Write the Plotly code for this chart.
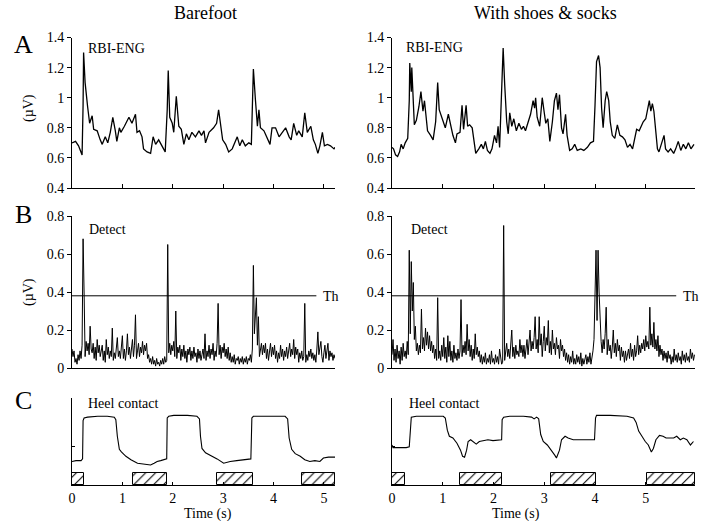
import plotly.graph_objects as go

# ---------------- data ----------------
# Panel A: rectified-bin-integrated ENG (µV) versus time (s)
A_BAREFOOT = [
    (0.00, 0.70), (0.07, 0.71), (0.13, 0.68), (0.17, 0.64), (0.20, 0.62), (0.22, 0.95),
    (0.23, 1.30), (0.26, 1.10), (0.29, 0.97), (0.31, 0.94), (0.35, 0.83), (0.40, 0.88),
    (0.43, 0.79), (0.50, 0.78), (0.56, 0.72), (0.60, 0.69), (0.66, 0.74), (0.71, 0.70),
    (0.76, 0.77), (0.81, 0.87), (0.86, 0.78), (0.89, 0.71), (0.94, 0.80), (0.97, 0.77),
    (1.04, 0.81), (1.13, 0.87), (1.19, 0.83), (1.26, 0.89), (1.29, 0.77), (1.34, 0.78),
    (1.39, 0.74), (1.42, 0.66), (1.49, 0.64), (1.56, 0.63), (1.61, 0.74), (1.66, 0.69),
    (1.72, 0.72), (1.79, 0.68), (1.85, 0.64), (1.89, 0.92), (1.91, 1.18), (1.94, 0.87),
    (1.99, 0.83), (2.02, 0.77), (2.07, 1.01), (2.12, 0.81), (2.17, 0.79), (2.22, 0.69),
    (2.27, 0.76), (2.32, 0.72), (2.38, 0.77), (2.45, 0.74), (2.52, 0.78), (2.57, 0.75),
    (2.62, 0.78), (2.65, 0.70), (2.72, 0.77), (2.81, 0.80), (2.87, 0.83), (2.91, 0.92),
    (2.95, 0.81), (2.99, 0.72), (3.05, 0.69), (3.11, 0.64), (3.18, 0.66), (3.23, 0.70),
    (3.28, 0.74), (3.33, 0.68), (3.38, 0.72), (3.44, 0.68), (3.51, 0.70), (3.56, 0.69),
    (3.60, 1.19), (3.64, 0.99), (3.68, 0.81), (3.71, 0.92), (3.74, 0.80), (3.81, 0.78),
    (3.87, 0.74), (3.93, 0.69), (3.97, 0.80), (4.04, 0.80), (4.11, 0.74), (4.17, 0.77),
    (4.24, 0.80), (4.31, 0.74), (4.35, 0.72), (4.40, 0.83), (4.46, 0.75), (4.50, 0.78),
    (4.57, 0.74), (4.62, 0.90), (4.67, 0.77), (4.74, 0.81), (4.79, 0.72), (4.83, 0.69),
    (4.88, 0.63), (4.92, 0.68), (4.97, 0.77), (5.01, 0.68), (5.07, 0.69), (5.13, 0.68),
    (5.20, 0.66), (5.22, 0.67),
]

A_SHOES = [
    (0.00, 0.67), (0.03, 0.66), (0.07, 0.62), (0.11, 0.61), (0.15, 0.64), (0.18, 0.69),
    (0.22, 0.66), (0.26, 0.70), (0.31, 0.73), (0.34, 0.98), (0.35, 1.23), (0.38, 1.04),
    (0.39, 1.20), (0.41, 1.07), (0.44, 0.82), (0.48, 0.85), (0.53, 0.94), (0.57, 1.04),
    (0.61, 0.91), (0.64, 0.98), (0.67, 0.86), (0.70, 0.78), (0.76, 0.75), (0.81, 0.72),
    (0.86, 0.84), (0.90, 1.10), (0.93, 0.92), (0.97, 0.88), (1.02, 0.84), (1.05, 0.80),
    (1.11, 0.89), (1.15, 0.83), (1.20, 0.75), (1.25, 0.70), (1.28, 0.76), (1.34, 0.77),
    (1.38, 0.95), (1.41, 0.79), (1.46, 0.95), (1.49, 0.81), (1.53, 0.82), (1.58, 0.80),
    (1.61, 0.71), (1.65, 0.63), (1.71, 0.66), (1.76, 0.69), (1.80, 0.66), (1.84, 0.71),
    (1.88, 0.65), (1.93, 0.63), (1.97, 0.66), (2.02, 0.75), (2.06, 0.70), (2.09, 0.81),
    (2.12, 0.67), (2.15, 0.98), (2.19, 1.33), (2.22, 1.09), (2.26, 0.84), (2.29, 0.76),
    (2.32, 0.90), (2.36, 0.81), (2.40, 0.86), (2.45, 0.78), (2.50, 0.83), (2.55, 0.79),
    (2.59, 0.81), (2.63, 0.78), (2.68, 0.83), (2.73, 0.89), (2.78, 0.98), (2.81, 0.93),
    (2.83, 1.00), (2.86, 0.87), (2.91, 0.81), (2.96, 1.00), (3.00, 0.90), (3.03, 0.83),
    (3.07, 0.86), (3.11, 0.71), (3.16, 0.84), (3.20, 0.98), (3.24, 1.03), (3.27, 0.92),
    (3.30, 1.02), (3.34, 0.80), (3.37, 0.76), (3.42, 0.89), (3.45, 0.75), (3.50, 0.65),
    (3.55, 0.66), (3.60, 0.69), (3.65, 0.65), (3.72, 0.66), (3.78, 0.65), (3.85, 0.67),
    (3.91, 0.70), (3.97, 0.71), (4.00, 0.95), (4.03, 1.24), (4.07, 1.28), (4.10, 1.20),
    (4.13, 0.93), (4.16, 0.80), (4.20, 0.98), (4.23, 1.04), (4.27, 0.98), (4.30, 0.84),
    (4.34, 0.75), (4.39, 0.73), (4.44, 0.82), (4.49, 0.75), (4.54, 0.74), (4.59, 0.72),
    (4.64, 0.67), (4.69, 0.69), (4.74, 0.66), (4.78, 0.72), (4.82, 0.79), (4.87, 0.78),
    (4.91, 0.81), (4.95, 0.84), (5.00, 0.86), (5.03, 0.91), (5.07, 0.98), (5.10, 0.91),
    (5.13, 0.96), (5.16, 0.91), (5.20, 0.78), (5.23, 0.66), (5.26, 0.64), (5.31, 0.69),
    (5.36, 0.75), (5.39, 0.66), (5.44, 0.64), (5.49, 0.66), (5.55, 0.63), (5.59, 0.66),
    (5.64, 0.71), (5.69, 0.65), (5.74, 0.69), (5.79, 0.66), (5.84, 0.70), (5.89, 0.66),
    (5.95, 0.69),
]

# Panel B: detection signal (µV), sampled every B_DT seconds; one row = 0.2 s
B_DT = 0.02
B_BAREFOOT = [
    0.10, 0.06, 0.09, 0.03, 0.05, 0.02, 0.07, 0.04, 0.09, 0.05,
    0.12, 0.68, 0.40, 0.06, 0.14, 0.09, 0.13, 0.07, 0.22, 0.10,
    0.08, 0.13, 0.05, 0.11, 0.04, 0.15, 0.08, 0.12, 0.06, 0.10,
    0.12, 0.04, 0.09, 0.03, 0.15, 0.07, 0.11, 0.05, 0.09, 0.06,
    0.21, 0.04, 0.08, 0.05, 0.10, 0.16, 0.06, 0.09, 0.05, 0.12,
    0.17, 0.05, 0.10, 0.04, 0.09, 0.18, 0.07, 0.11, 0.05, 0.10,
    0.15, 0.06, 0.12, 0.28, 0.05, 0.09, 0.13, 0.06, 0.11, 0.08,
    0.14, 0.07, 0.12, 0.09, 0.13, 0.05, 0.07, 0.03, 0.05, 0.02,
    0.06, 0.02, 0.04, 0.01, 0.05, 0.02, 0.03, 0.01, 0.04, 0.02,
    0.05, 0.02, 0.06, 0.03, 0.04, 0.65, 0.08, 0.13, 0.07, 0.12,
    0.09, 0.14, 0.06, 0.30, 0.05, 0.11, 0.08, 0.12, 0.04, 0.10,
    0.06, 0.12, 0.05, 0.09, 0.03, 0.10, 0.07, 0.11, 0.04, 0.09,
    0.05, 0.11, 0.06, 0.08, 0.03, 0.10, 0.05, 0.09, 0.04, 0.07,
    0.10, 0.05, 0.18, 0.04, 0.09, 0.06, 0.12, 0.05, 0.10, 0.07,
    0.13, 0.04, 0.09, 0.06, 0.13, 0.34, 0.07, 0.12, 0.05, 0.11,
    0.08, 0.13, 0.06, 0.10, 0.05, 0.11, 0.04, 0.08, 0.03, 0.06,
    0.03, 0.07, 0.02, 0.05, 0.04, 0.06, 0.02, 0.05, 0.03, 0.06,
    0.02, 0.05, 0.03, 0.06, 0.02, 0.05, 0.04, 0.07, 0.03, 0.10,
    0.54, 0.18, 0.30, 0.37, 0.12, 0.27, 0.06, 0.10, 0.13, 0.07,
    0.12, 0.08, 0.13, 0.05, 0.10, 0.04, 0.09, 0.13, 0.06, 0.11,
    0.07, 0.12, 0.05, 0.09, 0.03, 0.08, 0.05, 0.12, 0.06, 0.10,
    0.04, 0.09, 0.06, 0.11, 0.05, 0.08, 0.13, 0.06, 0.10, 0.07,
    0.15, 0.05, 0.11, 0.07, 0.10, 0.03, 0.08, 0.05, 0.09, 0.04,
    0.06, 0.34, 0.03, 0.07, 0.04, 0.09, 0.06, 0.10, 0.05, 0.08,
    0.04, 0.07, 0.03, 0.10, 0.19, 0.07, 0.12, 0.14, 0.06, 0.03,
    0.08, 0.12, 0.05, 0.09, 0.13, 0.04, 0.09, 0.06, 0.08, 0.04,
    0.07, 0.05,
]

B_SHOES = [
    0.07, 0.15, 0.04, 0.10, 0.03, 0.12, 0.05, 0.09, 0.02, 0.11,
    0.04, 0.13, 0.06, 0.09, 0.05, 0.14, 0.07, 0.62, 0.18, 0.56,
    0.30, 0.45, 0.15, 0.22, 0.09, 0.13, 0.07, 0.12, 0.08, 0.31,
    0.10, 0.16, 0.09, 0.21, 0.12, 0.19, 0.10, 0.17, 0.09, 0.14,
    0.08, 0.12, 0.05, 0.10, 0.04, 0.37, 0.05, 0.09, 0.04, 0.12,
    0.06, 0.16, 0.05, 0.11, 0.03, 0.17, 0.06, 0.14, 0.04, 0.09,
    0.03, 0.12, 0.05, 0.08, 0.04, 0.10, 0.05, 0.09, 0.36, 0.06,
    0.12, 0.08, 0.14, 0.07, 0.23, 0.09, 0.15, 0.06, 0.12, 0.04,
    0.10, 0.05, 0.18, 0.07, 0.11, 0.06, 0.09, 0.03, 0.07, 0.02,
    0.06, 0.03, 0.08, 0.02, 0.05, 0.03, 0.07, 0.02, 0.09, 0.03,
    0.05, 0.02, 0.07, 0.03, 0.06, 0.02, 0.10, 0.04, 0.02, 0.03,
    0.75, 0.04, 0.09, 0.13, 0.06, 0.10, 0.05, 0.12, 0.20, 0.06,
    0.11, 0.05, 0.12, 0.07, 0.09, 0.06, 0.15, 0.08, 0.12, 0.06,
    0.12, 0.05, 0.10, 0.15, 0.07, 0.13, 0.20, 0.09, 0.14, 0.10,
    0.16, 0.27, 0.10, 0.15, 0.08, 0.27, 0.12, 0.18, 0.06, 0.14,
    0.22, 0.09, 0.16, 0.12, 0.25, 0.08, 0.14, 0.07, 0.20, 0.10,
    0.13, 0.07, 0.16, 0.10, 0.12, 0.05, 0.15, 0.09, 0.12, 0.06,
    0.10, 0.04, 0.08, 0.03, 0.07, 0.02, 0.06, 0.03, 0.09, 0.02,
    0.05, 0.02, 0.07, 0.03, 0.06, 0.02, 0.08, 0.01, 0.05, 0.02,
    0.04, 0.07, 0.02, 0.06, 0.03, 0.08, 0.02, 0.05, 0.09, 0.15,
    0.35, 0.62, 0.25, 0.62, 0.40, 0.20, 0.14, 0.08, 0.15, 0.10,
    0.18, 0.32, 0.07, 0.15, 0.09, 0.12, 0.05, 0.11, 0.20, 0.08,
    0.13, 0.06, 0.15, 0.09, 0.12, 0.04, 0.11, 0.06, 0.09, 0.03,
    0.09, 0.04, 0.07, 0.10, 0.05, 0.13, 0.06, 0.10, 0.04, 0.12,
    0.06, 0.09, 0.17, 0.07, 0.12, 0.08, 0.13, 0.10, 0.15, 0.09,
    0.17, 0.11, 0.14, 0.10, 0.32, 0.12, 0.18, 0.11, 0.24, 0.10,
    0.15, 0.09, 0.17, 0.06, 0.12, 0.07, 0.10, 0.04, 0.09, 0.05,
    0.08, 0.03, 0.09, 0.05, 0.07, 0.02, 0.06, 0.03, 0.10, 0.04,
    0.07, 0.03, 0.08, 0.04, 0.06, 0.02, 0.09, 0.04, 0.07, 0.03,
    0.08, 0.04, 0.06, 0.03, 0.10, 0.05, 0.08, 0.04, 0.07,
]

THRESHOLD = 0.38
TH_END = {"barefoot": 4.85, "shoes": 5.60}

# Panel C: heel-contact sensor (arbitrary units)
C_BAREFOOT = [
    (0.00, 0.27), (0.08, 0.28), (0.18, 0.28), (0.21, 0.30), (0.22, 0.74), (0.24, 0.77),
    (0.31, 0.78), (0.51, 0.79), (0.70, 0.79), (0.84, 0.78), (0.87, 0.75), (0.90, 0.56),
    (0.94, 0.41), (0.98, 0.38), (1.07, 0.33), (1.17, 0.29), (1.30, 0.25), (1.43, 0.24),
    (1.56, 0.23), (1.63, 0.25), (1.69, 0.27), (1.76, 0.28), (1.86, 0.29), (1.88, 0.30),
    (1.89, 0.77), (1.92, 0.79), (2.02, 0.80), (2.29, 0.80), (2.48, 0.79), (2.53, 0.76),
    (2.55, 0.56), (2.58, 0.42), (2.65, 0.37), (2.75, 0.34), (2.88, 0.30), (3.01, 0.25),
    (3.14, 0.27), (3.27, 0.28), (3.41, 0.29), (3.55, 0.30), (3.57, 0.77), (3.60, 0.79),
    (3.87, 0.79), (4.23, 0.79), (4.28, 0.76), (4.31, 0.54), (4.36, 0.41), (4.43, 0.36),
    (4.53, 0.33), (4.62, 0.29), (4.72, 0.27), (4.82, 0.28), (4.92, 0.27), (4.99, 0.31),
    (5.09, 0.32), (5.22, 0.32),
]

C_SHOES = [
    (0.00, 0.46), (0.02, 0.43), (0.09, 0.43), (0.28, 0.43), (0.34, 0.44), (0.36, 0.70),
    (0.38, 0.78), (0.48, 0.79), (0.81, 0.79), (1.01, 0.79), (1.05, 0.77), (1.09, 0.63),
    (1.13, 0.56), (1.20, 0.54), (1.28, 0.48), (1.35, 0.40), (1.39, 0.33), (1.43, 0.32),
    (1.47, 0.40), (1.50, 0.50), (1.55, 0.52), (1.60, 0.50), (1.66, 0.47), (1.72, 0.50),
    (1.80, 0.51), (1.89, 0.52), (1.99, 0.51), (2.09, 0.52), (2.16, 0.52), (2.17, 0.75),
    (2.20, 0.78), (2.32, 0.79), (2.59, 0.79), (2.75, 0.78), (2.80, 0.76), (2.85, 0.78),
    (2.89, 0.76), (2.93, 0.58), (2.98, 0.50), (3.06, 0.46), (3.14, 0.40), (3.21, 0.34),
    (3.24, 0.31), (3.30, 0.40), (3.34, 0.52), (3.41, 0.56), (3.47, 0.54), (3.57, 0.52),
    (3.70, 0.52), (3.84, 0.52), (3.99, 0.52), (4.01, 0.77), (4.03, 0.80), (4.30, 0.80),
    (4.63, 0.79), (4.76, 0.77), (4.81, 0.72), (4.86, 0.62), (4.92, 0.56), (4.99, 0.50),
    (5.05, 0.46), (5.11, 0.38), (5.15, 0.42), (5.20, 0.52), (5.27, 0.57), (5.34, 0.56),
    (5.40, 0.54), (5.47, 0.54), (5.55, 0.54), (5.61, 0.56), (5.68, 0.52), (5.74, 0.54),
    (5.81, 0.52), (5.88, 0.46), (5.94, 0.50),
]

# Swing phases (start, end) in seconds, drawn as hatched bars
SWING_BAREFOOT = [(0.00, 0.23), (1.21, 1.89), (2.87, 3.60), (4.57, 5.22)]
SWING_SHOES = [(0.00, 0.25), (1.34, 2.17), (3.13, 4.01), (5.02, 5.97)]
SWING_HEIGHT = 0.138

A_TICKS = [0.4, 0.6, 0.8, 1.0, 1.2, 1.4]
A_TICKTEXT = ["0.4", "0.6", "0.8", "1", "1.2", "1.4"]
B_TICKS = [0.0, 0.2, 0.4, 0.6, 0.8]
B_TICKTEXT = ["0", "0.2", "0.4", "0.6", "0.8"]
TIME_TICKS = [0, 1, 2, 3, 4, 5]

# ---------------- layout helpers ----------------
W, H = 710, 521
FONT = "Liberation Serif, Times New Roman, serif"


def fx(px):
    return px / W


def fy(py):
    return 1 - py / H


X_LEFT = [fx(72), fx(335)]
X_RIGHT = [fx(392), fx(695)]
Y_A = [fy(188), fy(37.5)]
Y_B = [fy(368), fy(216)]
Y_C = [fy(485), fy(398)]
X_RANGE = {"barefoot": [0, 5.22], "shoes": [0, 5.97]}

fig = go.Figure()


def unzip(pairs):
    return [p[0] for p in pairs], [p[1] for p in pairs]


def sampled(values):
    return [round(i * B_DT, 4) for i in range(len(values))], values


panels = [
    ("x", "y", unzip(A_BAREFOOT), 1.3), ("x2", "y2", unzip(A_SHOES), 1.3),
    ("x3", "y3", sampled(B_BAREFOOT), 1.0), ("x4", "y4", sampled(B_SHOES), 1.0),
    ("x5", "y5", unzip(C_BAREFOOT), 1.1), ("x6", "y6", unzip(C_SHOES), 1.1),
]
for xa, ya, (t, v), lw in panels:
    fig.add_trace(go.Scatter(x=t, y=v, mode="lines", line=dict(color="black", width=lw),
                             xaxis=xa, yaxis=ya, showlegend=False, hoverinfo="skip"))

# threshold lines
for xa, ya, key in [("x3", "y3", "barefoot"), ("x4", "y4", "shoes")]:
    fig.add_trace(go.Scatter(x=[0, TH_END[key]], y=[THRESHOLD, THRESHOLD], mode="lines",
                             line=dict(color="black", width=1), xaxis=xa, yaxis=ya,
                             showlegend=False, hoverinfo="skip"))

# hatched swing bars
for xa, ya, swings in [("x5", "y5", SWING_BAREFOOT), ("x6", "y6", SWING_SHOES)]:
    fig.add_trace(go.Bar(
        x=[(a + b) / 2 for a, b in swings],
        y=[SWING_HEIGHT] * len(swings),
        width=[b - a for a, b in swings],
        base=0,
        xaxis=xa, yaxis=ya, showlegend=False, hoverinfo="skip",
        marker=dict(color="white", line=dict(color="black", width=1),
                    pattern=dict(shape="/", fgcolor="black", bgcolor="white",
                                 size=7, solidity=0.15)),
    ))

axis_common = dict(showgrid=False, zeroline=False, showline=True, linecolor="black",
                   linewidth=1, tickcolor="black", ticklen=4, tickwidth=1,
                   automargin=False,
                   tickfont=dict(family=FONT, size=14, color="black"))

layout_axes = {}
for i, (dom_x, key) in enumerate([(X_LEFT, "barefoot"), (X_RIGHT, "shoes")]):
    # A row
    n = 1 + i
    sfx = "" if n == 1 else str(n)
    layout_axes["xaxis" + sfx] = dict(
        axis_common, domain=dom_x, range=X_RANGE[key], anchor="y" + sfx,
        ticks="inside", tickvals=TIME_TICKS[1:], showticklabels=False)
    layout_axes["yaxis" + sfx] = dict(
        axis_common, domain=Y_A, range=[0.4, 1.4], anchor="x" + sfx,
        ticks="outside", tickvals=A_TICKS, ticktext=A_TICKTEXT)
    # B row
    n = 3 + i
    layout_axes[f"xaxis{n}"] = dict(
        axis_common, domain=dom_x, range=X_RANGE[key], anchor=f"y{n}",
        ticks="", showticklabels=False)
    layout_axes[f"yaxis{n}"] = dict(
        axis_common, domain=Y_B, range=[0, 0.8], anchor=f"x{n}",
        ticks="outside", tickvals=B_TICKS, ticktext=B_TICKTEXT)
    # C row
    n = 5 + i
    layout_axes[f"xaxis{n}"] = dict(
        axis_common, domain=dom_x, range=X_RANGE[key], anchor=f"y{n}",
        ticks="inside", ticklen=3, tickvals=TIME_TICKS,
        ticktext=[str(t) for t in TIME_TICKS])
    layout_axes[f"yaxis{n}"] = dict(
        axis_common, domain=Y_C, range=[0, 1], anchor=f"x{n}",
        ticks="inside", ticklen=3, tickvals=[0.44], showticklabels=False)

fig.update_layout(**layout_axes)


def text(x, y, s, size=14, xanchor="center", angle=0):
    fig.add_annotation(x=fx(x), y=fy(y), xref="paper", yref="paper", text=s,
                       showarrow=False, xanchor=xanchor, yanchor="middle", textangle=angle,
                       font=dict(family=FONT, size=size, color="black"))


text(205, 13, "Barefoot", size=18)
text(545, 13, "With shoes &amp; socks", size=18)
text(24, 45, "A", size=26)
text(24, 214, "B", size=26)
text(24, 400, "C", size=26)
text(29, 108, "(µV)", size=14, angle=-90)
text(29, 292, "(µV)", size=14, angle=-90)
text(86, 49, "RBI-ENG", xanchor="left")
text(404, 47, "RBI-ENG", xanchor="left")
text(87, 229, "Detect", xanchor="left")
text(409, 229, "Detect", xanchor="left")
text(321, 296, "Th", xanchor="left")
text(681, 296, "Th", xanchor="left")
text(86, 403, "Heel contact", xanchor="left")
text(407, 403, "Heel contact", xanchor="left")
text(208, 514, "Time (s)")
text(516, 514, "Time (s)")

fig.update_layout(template="none", width=W, height=H,
                  margin=dict(l=0, r=0, t=0, b=0, pad=0),
                  paper_bgcolor="white", plot_bgcolor="white", bargap=0,
                  font=dict(family=FONT, color="black"))

fig.write_html("out.html")
